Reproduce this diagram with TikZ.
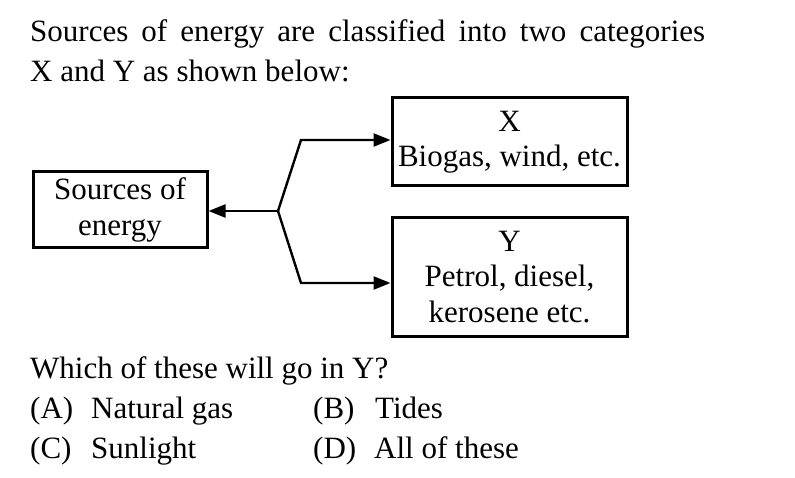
\documentclass[tikz,border=0pt]{standalone}
\usepackage{fontspec}
\setmainfont{Liberation Serif}
\usetikzlibrary{arrows.meta}
\begin{document}
\begin{tikzpicture}[
			x = 1pt, y = -1pt,
			every node/.style = {font = \fontsize{31}{36}\selectfont, inner sep = 0pt},
			txt/.style = {anchor = base west},
			box/.style = {draw, line width = 3pt, align = center, font = \fontsize{31}{35.5}\selectfont},
			link/.style = {line width = 2.4pt, -{Triangle[length = 17pt, width = 13pt]}}
			]

			\useasboundingbox (0,0) rectangle (795,478);

			% question text
			\node[txt] (l1) at (30,42) {\makebox[675pt][s]{Sources of energy are classified into two categories}};
			\node[txt] (l2) at (30,82) {X and Y as shown below:};

			% boxes
			\node[box, minimum width = 235pt, minimum height = 88pt] (X) at (509.5,142) {X\\Biogas, wind, etc.};
			\node[box, minimum width = 235pt, minimum height = 118pt] (Y) at (509.5,277) {Y\\Petrol, diesel,\\kerosene etc.};
			\node[box, minimum width = 174pt, minimum height = 76pt] (src) at (120,210) {Sources of\\energy};

			% connectors
			\coordinate (j) at (278,211);
			\coordinate (up) at (301,140);
			\coordinate (lo) at (301,283);
			\draw[link] (j) -- (src.east |- j);
			\draw[link] (j) -- (up) -- (up -| X.west);
			\draw[link] (j) -- (lo) -- (lo -| Y.west);

			% options
			\node[txt] (q) at (30,378) {Which of these will go in Y?};
			\node[txt] (a) at (30,418) {(A)};
			\node[txt] (at) at (91,418) {Natural gas};
			\node[txt] (b) at (313,418) {(B)};
			\node[txt] (bt) at (375,418) {Tides};
			\node[txt] (c) at (30,458) {(C)};
			\node[txt] (ct) at (91,458) {Sunlight};
			\node[txt] (d) at (313,458) {(D)};
			\node[txt] (dt) at (374,458) {All of these};

		\end{tikzpicture}
\end{document}
